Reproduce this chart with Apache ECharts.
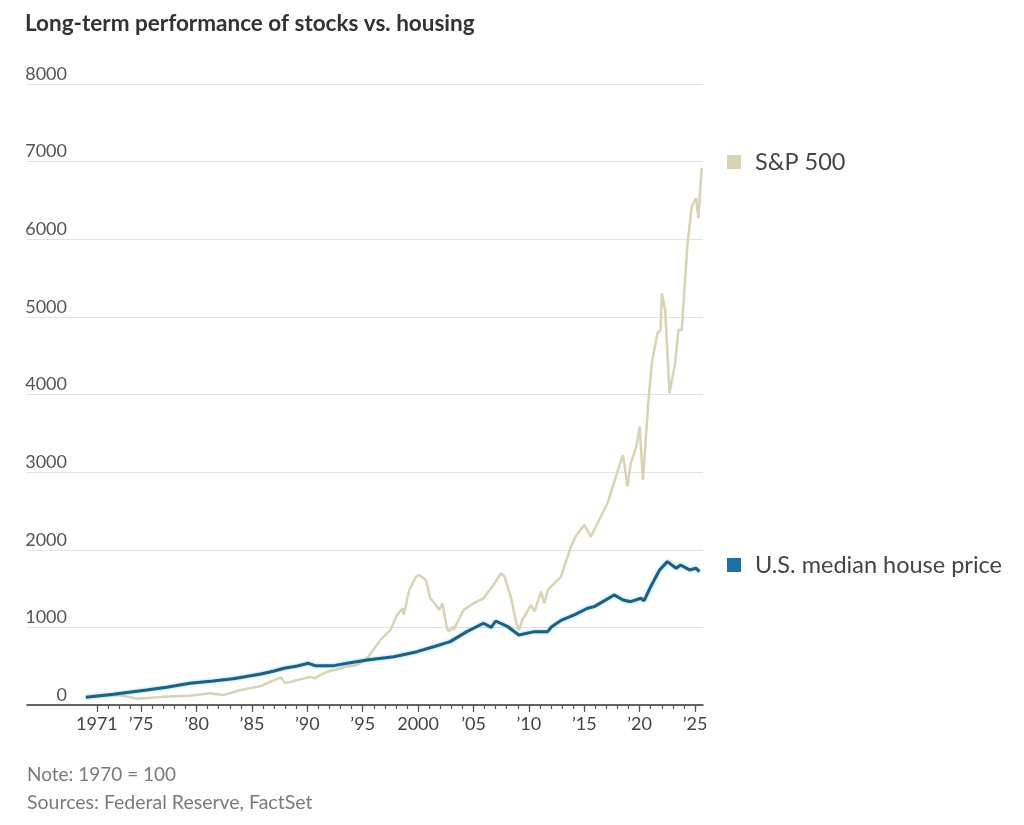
<!DOCTYPE html>
<html>
<head>
<meta charset="utf-8">
<title>Long-term performance of stocks vs. housing</title>
<script src="https://cdn.jsdelivr.net/npm/echarts@6/dist/echarts.min.js"></script>
<style>
    html, body { margin: 0; padding: 0; background: #fff; }
    #main { width: 1024px; height: 825px; }
</style>
</head>
<body>
<div id="main"></div>
<script type="text/javascript">
    // S&P 500 (1970 = 100)
    var spYears = [1970, 1972.9, 1974.7, 1977.0, 1979.4, 1981.2, 1982.4, 1984.0, 1985.8, 1987.6, 1988.0,
        1989.4, 1990.3, 1990.6, 1991.8, 1993.6, 1994.5, 1995.4, 1996.6, 1997.5, 1998.1, 1998.6, 1998.7,
        1999.2, 1999.8, 2000.1, 2000.7, 2001.1, 2001.6, 2001.9, 2002.2, 2002.6, 2002.8, 2003.1, 2003.2,
        2004.1, 2005.0, 2005.9, 2006.8, 2007.5, 2007.8, 2008.4, 2008.8, 2009.1, 2009.4, 2010.2, 2010.5,
        2011.1, 2011.4, 2011.7, 2012.3, 2012.9, 2013.8, 2014.2, 2015.0, 2015.6, 2016.2, 2017.1, 2017.9,
        2018.5, 2018.9, 2019.2, 2019.7, 2020.0, 2020.3, 2020.8, 2021.1, 2021.6, 2021.9, 2022.0, 2022.3,
        2022.7, 2023.2, 2023.5, 2023.8, 2024.3, 2024.7, 2025.1, 2025.3, 2025.6];
    var spValues = [100, 128, 81, 107, 120, 150, 129, 193, 245, 357, 280,
        331, 365, 344, 429, 494, 515, 602, 838, 966, 1160, 1246, 1160,
        1482, 1653, 1675, 1611, 1375, 1289, 1224, 1310, 988, 945, 1009, 966,
        1224, 1310, 1375, 1546, 1697, 1653, 1375, 1095, 966, 1095, 1289, 1203,
        1461, 1310, 1482, 1568, 1653, 2040, 2169, 2320, 2169, 2341, 2599, 2964,
        3222, 2813, 3115, 3329, 3586, 2900, 3930, 4403, 4790, 4832, 5305, 5090,
        4016, 4403, 4832, 4832, 5906, 6421, 6530, 6272, 6916];

    // U.S. median house price (1970 = 100)
    var houseYears = [1970, 1972.5, 1975.5, 1977.3, 1979.4, 1981.5, 1983.3, 1985.8, 1987.0, 1987.9, 1989.1,
        1990.1, 1990.7, 1992.4, 1993.6, 1995.4, 1997.8, 1999.9, 2001.4, 2002.9, 2004.4, 2005.9, 2006.6,
        2007.0, 2008.1, 2009.1, 2010.5, 2011.7, 2012.0, 2012.9, 2014.1, 2015.3, 2015.9, 2017.7, 2018.5,
        2019.2, 2020.1, 2020.4, 2021.0, 2021.8, 2022.5, 2023.3, 2023.7, 2024.5, 2025.1, 2025.4];
    var houseValues = [100, 138, 193, 228, 280, 309, 339, 400, 438, 473, 503,
        537, 507, 507, 537, 580, 622, 687, 751, 816, 945, 1053, 1001,
        1082, 1009, 902, 945, 945, 1001, 1090, 1160, 1246, 1267, 1418, 1353,
        1331, 1375, 1344, 1525, 1740, 1847, 1762, 1804, 1740, 1762, 1718];

    // axis labels
    var tickYears = [1971, 1975, 1980, 1985, 1990, 1995, 2000, 2005, 2010, 2015, 2020, 2025];
    var minorYears = [];
    for (var y = 1971; y <= 2025; y++) { minorYears.push(y); }

    function pairs(xs, vs) {
        var out = [];
        for (var i = 0; i < xs.length; i++) { out.push([xs[i], vs[i]]); }
        return out;
    }

    var FONT = 'Lato, "Noto Sans", sans-serif';
    var X_MIN = 1964.69, X_MAX = 2025.72;

    var myChart = echarts.init(document.getElementById('main'));

    var option = {
        backgroundColor: '#ffffff',
        animation: false,
        textStyle: { fontFamily: FONT },
        title: [
            {
                text: 'Long-term performance of stocks vs. housing',
                left: 25, top: 12, padding: 0,
                textStyle: { fontFamily: FONT, fontSize: 22.5, fontWeight: 'bold', color: '#333333' }
            },
            {
                text: 'Note: 1970 = 100',
                left: 27, top: 765, padding: 0,
                textStyle: { fontFamily: FONT, fontSize: 19, fontWeight: 'normal', color: '#7a7a7a' }
            },
            {
                text: 'Sources: Federal Reserve, FactSet',
                left: 27, top: 793, padding: 0,
                textStyle: { fontFamily: FONT, fontSize: 19.5, fontWeight: 'normal', color: '#7a7a7a' }
            }
        ],
        legend: [
            {
                data: ['S&P 500'], left: 727, top: 150, padding: 0,
                icon: 'rect', itemWidth: 14, itemHeight: 14,
                textStyle: { fontFamily: FONT, fontSize: 23.5, color: '#444444', padding: [0, 0, 0, 9] }
            },
            {
                data: ['U.S. median house price'], left: 727, top: 553, padding: 0,
                icon: 'rect', itemWidth: 14, itemHeight: 14,
                textStyle: { fontFamily: FONT, fontSize: 23.5, color: '#444444', padding: [0, 0, 0, 9] }
            }
        ],
        grid: { left: 27, right: 321, top: 84, bottom: 120 },
        xAxis: [
            {
                type: 'value', min: X_MIN, max: X_MAX,
                axisLine: { show: true, lineStyle: { color: '#333333', width: 1.5 } },
                axisTick: { show: true, customValues: minorYears, length: 4, lineStyle: { color: '#555555', width: 1.2 } },
                axisLabel: { show: false },
                splitLine: { show: false }
            },
            {
                type: 'value', min: X_MIN, max: X_MAX, position: 'bottom', offset: 0,
                axisLine: { show: false },
                axisTick: { show: true, customValues: tickYears, length: 7, lineStyle: { color: '#555555', width: 1.2 } },
                axisLabel: {
                    show: true, customValues: tickYears, margin: 10,
                    fontFamily: FONT, fontSize: 18, color: '#444444',
                    formatter: function (v) {
                        if (v === 1971 || v === 2000) { return String(v); }
                        return '\u2019' + String(v).slice(2);
                    }
                },
                splitLine: { show: false }
            }
        ],
        yAxis: {
            type: 'value', min: 0, max: 8000, interval: 1000,
            axisLine: { show: false },
            axisTick: { show: false },
            splitLine: { show: true, lineStyle: { color: '#e3e3e3', width: 1.2 } },
            axisLabel: {
                inside: true, margin: 40, align: 'right', verticalAlign: 'bottom',
                lineHeight: 18, padding: [0, 0, 1, 0],
                showMinLabel: true, showMaxLabel: true,
                fontFamily: FONT, fontSize: 18, color: '#555555',
                formatter: function (v) { return String(v); }
            }
        },
        series: [
            {
                name: 'S&P 500',
                type: 'line', xAxisIndex: 0,
                data: pairs(spYears, spValues),
                showSymbol: false, symbol: 'none',
                itemStyle: { color: '#d8d3b6' },
                lineStyle: { color: '#d8d3b6', width: 2.5 },
                z: 2
            },
            {
                name: 'U.S. median house price',
                type: 'line', xAxisIndex: 0,
                data: pairs(houseYears, houseValues),
                showSymbol: false, symbol: 'none',
                itemStyle: { color: '#1c70a6' },
                lineStyle: { color: '#1f5f80', width: 3, shadowColor: 'rgba(90,190,230,0.7)', shadowBlur: 3 },
                z: 3
            }
        ]
    };

    myChart.setOption(option);
</script>
</body>
</html>
